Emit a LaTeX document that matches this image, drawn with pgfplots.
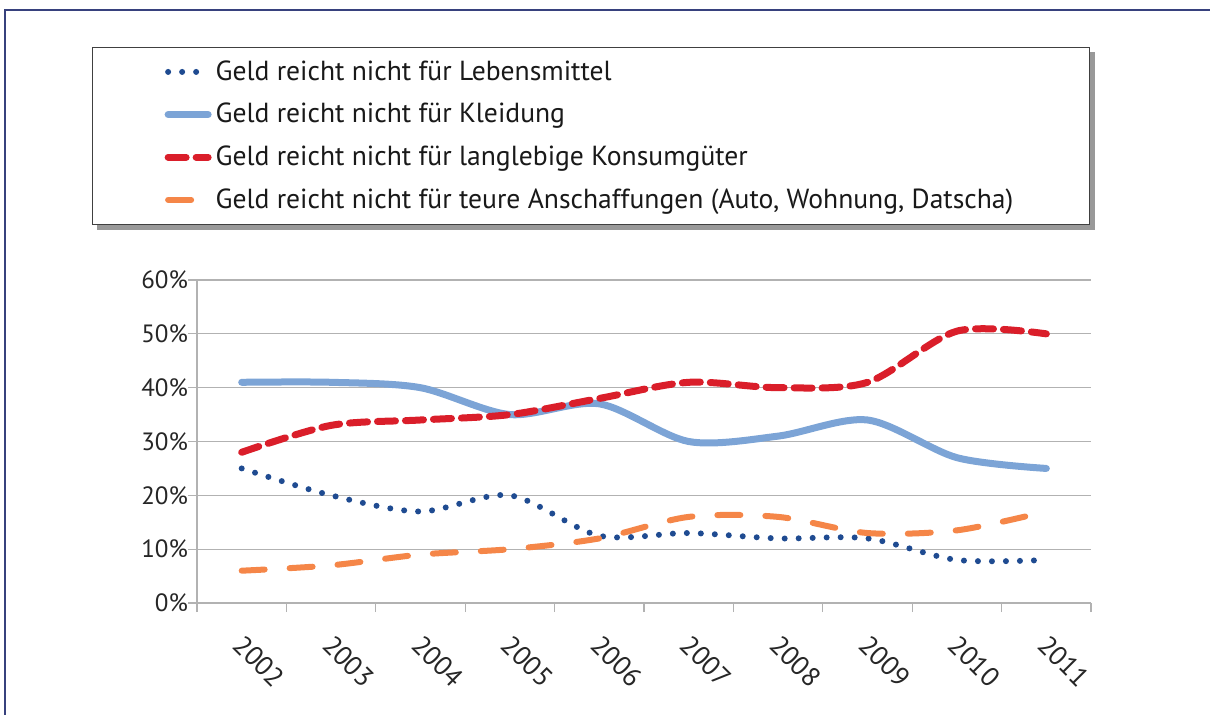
\documentclass[border=0pt]{standalone}
\usepackage{pgfplots}
\pgfplotsset{compat=1.18}
\usepackage{fontspec}
\setmainfont{PT Sans}
\pgfdeclarelayer{background}
\pgfsetlayers{background,main}
\definecolor{cDot}{RGB}{31,75,145}
\definecolor{cSolid}{RGB}{124,164,214}
\definecolor{cRed}{RGB}{218,30,42}
\definecolor{cOrange}{RGB}{245,134,72}
\definecolor{cGrid}{RGB}{178,178,178}
\definecolor{cFrame}{RGB}{55,65,125}
\begin{document}
\begin{tikzpicture}
\path[use as bounding box] (0,0) rectangle (605pt,-357pt);
\clip (0,0) rectangle (605pt,-357pt);
\draw[cFrame, line width=1pt] (2.5pt,-5pt) rectangle (700pt,-500pt);
\begin{axis}[
  scale only axis, width=447pt, height=161.5pt,
  at={(98.5pt,-301.5pt)}, anchor=south west,
  xmin=-0.5, xmax=9.5, ymin=0, ymax=0.6,
  axis x line*=bottom, axis y line*=left,
  axis line style={cGrid, line width=0.6pt, -},
  xtick={-0.5,0.5,1.5,2.5,3.5,4.5,5.5,6.5,7.5,8.5,9.5}, xticklabels={},
  extra x ticks={0,1,2,3,4,5,6,7,8,9},
  extra x tick labels={2002,2003,2004,2005,2006,2007,2008,2009,2010,2011},
  extra x tick style={major tick length=0pt, tick label style={xshift=1.8pt, yshift=-10.2pt, rotate=-45, anchor=north west, font=\fontsize{13.5}{16}\selectfont}},
  ytick={0,0.1,0.2,0.3,0.4,0.5,0.6},
  yticklabels={0\%,10\%,20\%,30\%,40\%,50\%,60\%},
  yticklabel style={xshift=3.5pt},
  ymajorgrids, grid style={cGrid, line width=0.6pt},
  tick style={cGrid, line width=0.6pt}, tick align=outside, major tick length=4.5pt,
  ticklabel style={font=\fontsize{12.5}{15}\selectfont, text=black!85},
  legend cell align=left,
  legend style={name=leg, at={(-0.1174,1.7214)}, anchor=north west, draw=black!75, line width=0.6pt, fill=white,
    inner xsep=36pt, inner ysep=4.5pt, row sep=6pt,
    font=\fontsize{13.8}{16}\selectfont, text=black!90},
  legend image code/.code={\draw[#1] (0pt,0pt) -- (20pt,0pt);},
]
\addplot[cDot, line width=3pt, line cap=round, dash pattern=on 0pt off 7pt, smooth]
  coordinates {(0,0.25)(1,0.20)(2,0.17)(3,0.20)(4,0.125)(5,0.13)(6,0.12)(7,0.12)(8,0.08)(9,0.08)};
\addlegendentry{Geld reicht nicht für Lebensmittel}
\addplot[cSolid, line width=3.5pt, line cap=round, smooth]
  coordinates {(0,0.41)(1,0.41)(2,0.40)(3,0.35)(4,0.37)(5,0.30)(6,0.31)(7,0.34)(8,0.27)(9,0.25)};
\addlegendentry{Geld reicht nicht für Kleidung}
\addplot[cRed, line width=3.5pt, line cap=round, dash pattern=on 9pt off 5pt, smooth]
  coordinates {(0,0.28)(1,0.33)(2,0.34)(3,0.35)(4,0.38)(5,0.41)(6,0.40)(7,0.41)(8,0.505)(9,0.50)};
\addlegendentry{Geld reicht nicht für langlebige Konsumgüter}
\addplot[cOrange, line width=3pt, line cap=round, dash pattern=on 11.5pt off 12.5pt, smooth]
  coordinates {(0,0.06)(1,0.07)(2,0.09)(3,0.10)(4,0.12)(5,0.16)(6,0.16)(7,0.13)(8,0.135)(9,0.17)};
\addlegendentry{Geld reicht nicht für teure Anschaffungen (Auto, Wohnung, Datscha)}
\end{axis}
\begin{pgfonlayer}{background}
\fill[black!40] ([shift={(2.5pt,-2.5pt)}]leg.south west) rectangle ([shift={(2.5pt,-2.5pt)}]leg.north east);
\end{pgfonlayer}
\end{tikzpicture}
\end{document}
